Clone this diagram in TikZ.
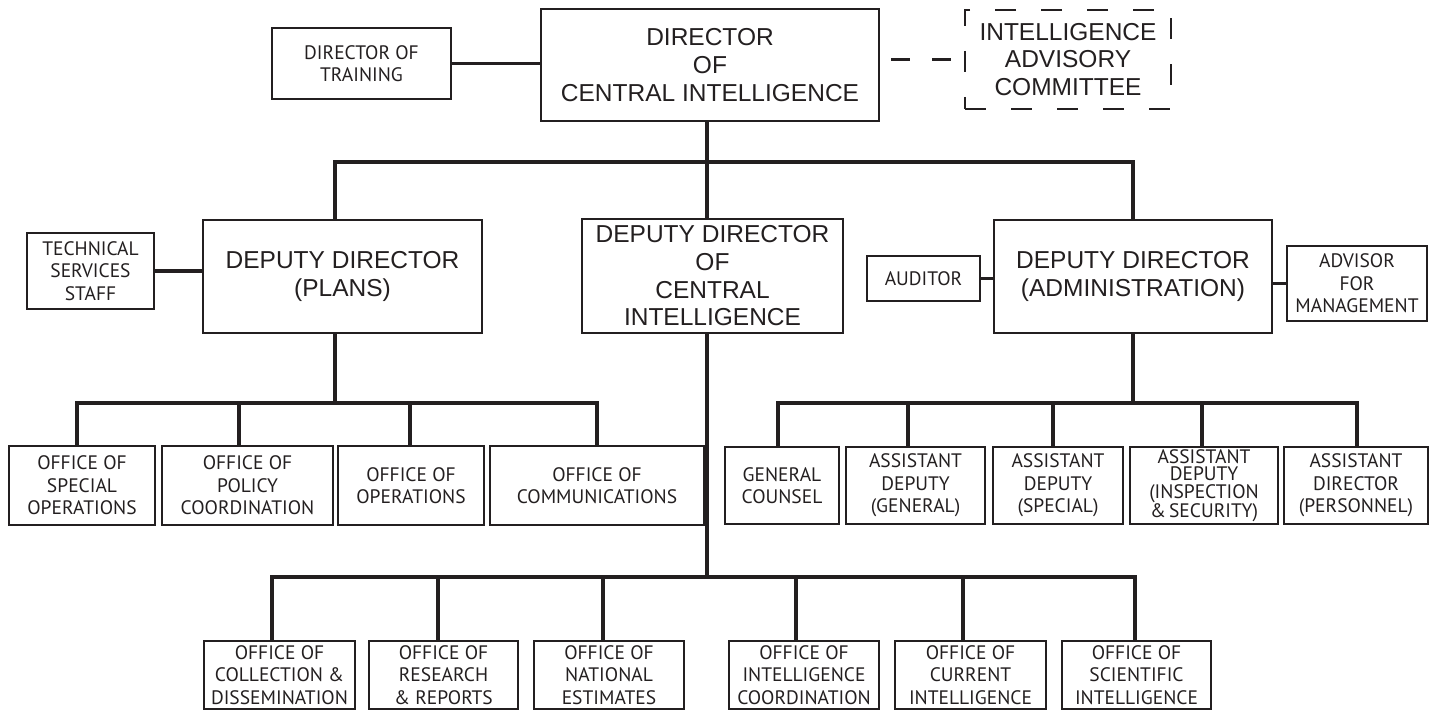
\documentclass[tikz,border=0pt]{standalone}
\usepackage{fontspec}
\setmainfont{Liberation Sans}
\newfontfamily\myr{PT Sans}
\definecolor{ink}{HTML}{231F20}
\begin{document}
\begin{tikzpicture}[x=1pt,y=-1pt,
  box/.style={draw=ink, line width=2.4pt, inner sep=0pt, align=center, text=ink},
  big/.style={box, font=\fontsize{24.5}{27.7}\selectfont},
  small/.style={box, font=\myr\fontsize{19.5}{22.5}\selectfont},
  conn/.style={draw=ink, line width=3.3pt},
]
\useasboundingbox (0,0) rectangle (1431,711);

% top level
\node[big, minimum width=338pt, minimum height=112pt] (dci) at (710,65) {DIRECTOR\\OF\\CENTRAL INTELLIGENCE};
\node[small, minimum width=179pt, minimum height=71pt] (dot) at (361.5,63.5) {DIRECTOR OF\\TRAINING};
\node[big, dash pattern=on 21pt off 25pt, minimum width=206pt, minimum height=99pt] (iac) at (1068,59.5) {INTELLIGENCE\\ADVISORY\\COMMITTEE};

% deputies
\node[big, minimum width=279pt, minimum height=113pt] (plans) at (342.5,276.5) {DEPUTY DIRECTOR\\(PLANS)};
\node[small, minimum width=127pt, minimum height=76pt] (tss) at (90.5,271) {TECHNICAL\\SERVICES\\STAFF};
\node[big, minimum width=261pt, minimum height=114pt] (ddci) at (712.5,276) {DEPUTY DIRECTOR\\OF\\CENTRAL\\INTELLIGENCE};
\node[small, minimum width=113pt, minimum height=45pt] (aud) at (923.5,278.5) {AUDITOR};
\node[big, minimum width=278pt, minimum height=113pt] (admin) at (1133,276.5) {DEPUTY DIRECTOR\\(ADMINISTRATION)};
\node[small, minimum width=140pt, minimum height=75pt] (adv) at (1357,283.5) {ADVISOR\\FOR\\MANAGEMENT};

% plans offices
\node[small, minimum width=146pt, minimum height=79pt] (oso) at (82,485.5) {OFFICE OF\\SPECIAL\\OPERATIONS};
\node[small, minimum width=171pt, minimum height=79pt] (opc) at (247.5,485.5) {OFFICE OF\\POLICY\\COORDINATION};
\node[small, minimum width=146pt, minimum height=79pt] (oo) at (411,485.5) {OFFICE OF\\OPERATIONS};
\node[small, minimum width=214pt, minimum height=79pt] (oc) at (597,485.5) {OFFICE OF\\COMMUNICATIONS};

% admin offices
\node[small, minimum width=114pt, minimum height=77pt] (gc) at (782,485.5) {GENERAL\\COUNSEL};
\node[small, minimum width=139pt, minimum height=77pt] (ag) at (915.5,485.5) {ASSISTANT\\DEPUTY\\(GENERAL)};
\node[small, minimum width=130pt, minimum height=77pt] (as) at (1058,485.5) {ASSISTANT\\DEPUTY\\(SPECIAL)};
\node[small, font=\myr\fontsize{19.5}{17.5}\selectfont, minimum width=148pt, minimum height=77pt] (ais) at (1204,485.5) {ASSISTANT\\DEPUTY\\(INSPECTION\\\&\,SECURITY)};
\node[small, minimum width=144pt, minimum height=77pt] (ap) at (1356,485.5) {ASSISTANT\\DIRECTOR\\(PERSONNEL)};

% DDCI offices
\node[small, minimum width=151pt, minimum height=68pt] (ocd) at (279.5,675) {OFFICE OF\\COLLECTION \&\\DISSEMINATION};
\node[small, minimum width=149pt, minimum height=68pt] (orr) at (443.5,675) {OFFICE OF\\RESEARCH\\\& REPORTS};
\node[small, minimum width=150pt, minimum height=68pt] (one) at (609,675) {OFFICE OF\\NATIONAL\\ESTIMATES};
\node[small, minimum width=150pt, minimum height=68pt] (oic) at (804,675) {OFFICE OF\\INTELLIGENCE\\COORDINATION};
\node[small, minimum width=151pt, minimum height=68pt] (oci) at (970.5,675) {OFFICE OF\\CURRENT\\INTELLIGENCE};
\node[small, minimum width=149pt, minimum height=68pt] (osi) at (1136.5,675) {OFFICE OF\\SCIENTIFIC\\INTELLIGENCE};

% bus coordinates
\coordinate (pv) at (335,162);
\coordinate (ddv) at (707,162);
\coordinate (av) at (1133,162);
\coordinate (l1) at (77,403);
\coordinate (l2) at (239,403);
\coordinate (l3) at (410,403);
\coordinate (l4) at (597,403);
\coordinate (r1) at (778,403);
\coordinate (r2) at (908,403);
\coordinate (r3) at (1053,403);
\coordinate (r4) at (1202,403);
\coordinate (r5) at (1357,403);
\coordinate (d1) at (272,577);
\coordinate (d2) at (438,577);
\coordinate (d3) at (603,577);
\coordinate (d4) at (796,577);
\coordinate (d5) at (963,577);
\coordinate (d6) at (1135,577);

% top connectors
\draw[conn] (dot.east) -- (dot.east -| dci.west);
\draw[conn, dash pattern=on 19pt off 22pt, dash phase=30pt] (dci.east |- iac.west) -- (iac.west);
\draw[conn] (dci.south -| ddv) -- (ddci.north -| ddv);
\draw[conn] (plans.north -| pv) -- (pv) -- (av) -- (admin.north);

% side connectors
\draw[conn] (tss.east) -- (tss.east -| plans.west);
\draw[conn] (aud.east) -- (aud.east -| admin.west);
\draw[conn] (adv.west) -- (adv.west -| admin.east);

% plans bus
\draw[conn] (plans.south -| pv) -- (l1 -| pv);
\draw[conn] (oso.north -| l1) -- (l1) -- (l4) -- (oc.north -| l4);
\draw[conn] (opc.north -| l2) -- (l2);
\draw[conn] (oo.north -| l3) -- (l3);

% admin bus
\draw[conn] (admin.south) -- (admin.south |- r1);
\draw[conn] (gc.north -| r1) -- (r1) -- (r5) -- (ap.north -| r5);
\draw[conn] (ag.north -| r2) -- (r2);
\draw[conn] (as.north -| r3) -- (r3);
\draw[conn] (ais.north -| r4) -- (r4);

% DDCI bus
\draw[conn] (ddci.south -| ddv) -- (d1 -| ddv);
\draw[conn] (ocd.north -| d1) -- (d1) -- (d6) -- (osi.north -| d6);
\draw[conn] (orr.north -| d2) -- (d2);
\draw[conn] (one.north -| d3) -- (d3);
\draw[conn] (oic.north -| d4) -- (d4);
\draw[conn] (oci.north -| d5) -- (d5);
\end{tikzpicture}
\end{document}
